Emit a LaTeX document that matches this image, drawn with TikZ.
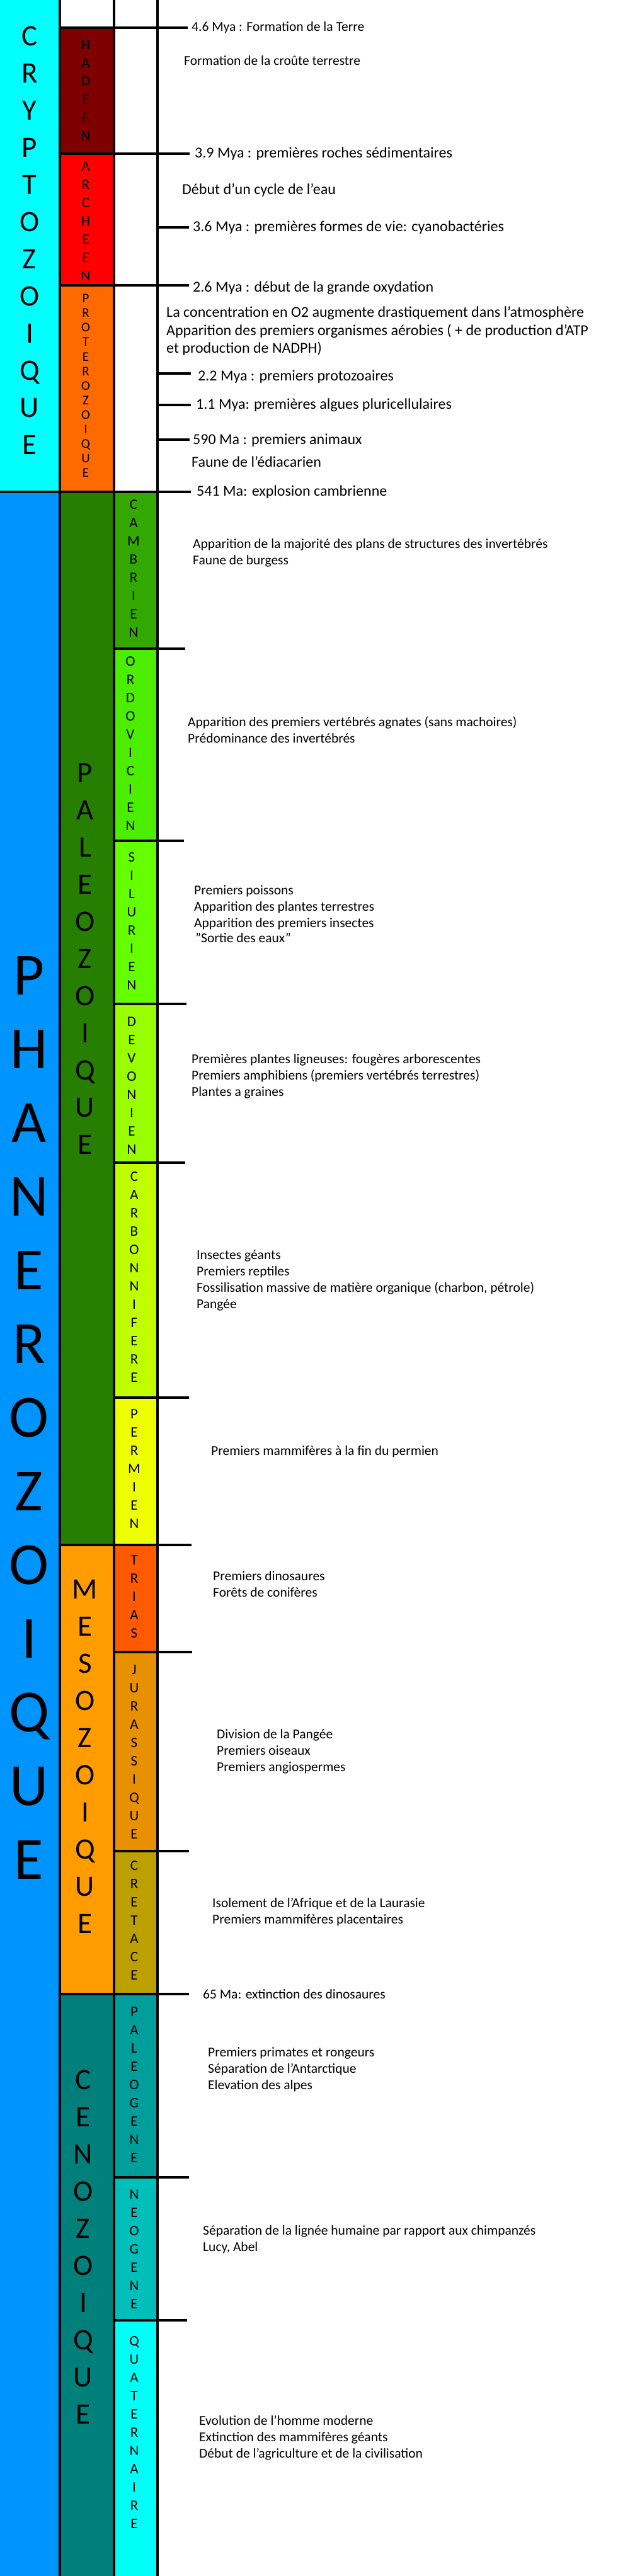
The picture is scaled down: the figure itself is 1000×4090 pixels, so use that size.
\documentclass[tikz,border=0pt]{standalone}
\usepackage{fontspec}
\setmainfont{Carlito}
\usepackage{xcolor}
\usepackage{tikz}
\usetikzlibrary{positioning}

\definecolor{cryptoC}{HTML}{00FFFF}
\definecolor{phaneroC}{HTML}{0094FF}
\definecolor{hadeenC}{HTML}{7F0000}
\definecolor{archeenC}{HTML}{FF0000}
\definecolor{proteroC}{HTML}{FF6A00}
\definecolor{paleoC}{HTML}{267F00}
\definecolor{mesoC}{HTML}{FF9C00}
\definecolor{cenoC}{HTML}{007F7B}
\definecolor{cambC}{HTML}{33A800}
\definecolor{ordoC}{HTML}{4CEE00}
\definecolor{siluC}{HTML}{66FF00}
\definecolor{devoC}{HTML}{99FF00}
\definecolor{carboC}{HTML}{BFFF00}
\definecolor{permC}{HTML}{EEFF00}
\definecolor{triasC}{HTML}{FF5A00}
\definecolor{juraC}{HTML}{E79000}
\definecolor{cretaC}{HTML}{BBA000}
\definecolor{paleogC}{HTML}{009E9A}
\definecolor{neogC}{HTML}{00BFBA}
\definecolor{quatC}{HTML}{00FFF6}

\begin{document}
\begin{tikzpicture}[
  x=1pt, y=-1pt,
  divider/.style={line width=4.3pt, black},
  tickline/.style={line width=4.3pt, black},
  bigword/.style={align=center, inner sep=0pt, font=\fontsize{47}{59}\selectfont},
  hugeword/.style={align=center, inner sep=0pt, font=\fontsize{95}{117}\selectfont},
  smallword/.style={align=center, inner sep=0pt, font=\fontsize{23}{29}\selectfont},
  tinyword/.style={align=center, inner sep=0pt, font=\fontsize{21}{23.1}\selectfont},
  fact/.style={anchor=west, align=left, inner sep=0pt, font=\fontsize{21.5}{26}\selectfont},
  bigfact/.style={anchor=west, align=left, inner sep=0pt, font=\fontsize{24}{28.5}\selectfont}
]
\useasboundingbox[fill=white] (0,0) rectangle (1000,4090);

% eons
\fill[cryptoC] (0,0) rectangle (95,781);
\fill[phaneroC] (0,781) rectangle (95,4090);

% eras
\fill[hadeenC] (95,44) rectangle (181,244);
\fill[archeenC] (95,244) rectangle (181,453);
\fill[proteroC] (95,453) rectangle (181,781);
\fill[paleoC] (95,781) rectangle (181,2453);
\fill[mesoC] (95,2453) rectangle (181,3166);
\fill[cenoC] (95,3166) rectangle (181,4090);

% periods
\fill[cambC] (181,781) rectangle (250,1030);
\fill[ordoC] (181,1030) rectangle (250,1335);
\fill[siluC] (181,1335) rectangle (250,1594);
\fill[devoC] (181,1594) rectangle (250,1846);
\fill[carboC] (181,1846) rectangle (250,2219);
\fill[permC] (181,2219) rectangle (250,2453);
\fill[triasC] (181,2453) rectangle (250,2623);
\fill[juraC] (181,2623) rectangle (250,2939);
\fill[cretaC] (181,2939) rectangle (250,3166);
\fill[paleogC] (181,3166) rectangle (250,3457);
\fill[neogC] (181,3457) rectangle (250,3684);
\fill[quatC] (181,3684) rectangle (250,4090);

\draw[divider] (95,0) -- (95,4090);
\draw[divider] (181,0) -- (181,4090);
\draw[divider] (250,0) -- (250,4090);

% ticks
\draw[tickline] (95,44) -- (298,44);
\draw[tickline] (95,244) -- (301,244);
\draw[tickline] (250,361) -- (300,361);
\draw[tickline] (95,453) -- (300,453);
\draw[tickline] (250,593) -- (303,593);
\draw[tickline] (250,643) -- (303,643);
\draw[tickline] (250,698) -- (301,698);
\draw[tickline] (0,781) -- (303,781);
\draw[tickline] (181,1030) -- (294,1030);
\draw[tickline] (181,1335) -- (292,1335);
\draw[tickline] (181,1594) -- (296,1594);
\draw[tickline] (181,1846) -- (294,1846);
\draw[tickline] (181,2219) -- (300,2219);
\draw[tickline] (95,2453) -- (304,2453);
\draw[tickline] (181,2623) -- (305,2623);
\draw[tickline] (181,2939) -- (300,2939);
\draw[tickline] (95,3166) -- (300,3166);
\draw[tickline] (181,3457) -- (300,3457);
\draw[tickline] (181,3684) -- (297,3684);

% stacked names
\node[bigword] (crypto) at (47,381.5) {C\\R\\Y\\P\\T\\O\\Z\\O\\I\\Q\\U\\E};
\node[hugeword] (phanero) at (46,2251) {P\\H\\A\\N\\E\\R\\O\\Z\\O\\I\\Q\\U\\E};

\node[smallword] (hadeen) at (136,144) {H\\A\\D\\E\\E\\N};
\node[smallword] (archeen) at (136,351) {A\\R\\C\\H\\E\\E\\N};
\node[tinyword] (protero) at (136,612.5) {P\\R\\O\\T\\E\\R\\O\\Z\\O\\I\\Q\\U\\E};
\node[bigword] (paleo) at (135,1522.5) {P\\A\\L\\E\\O\\Z\\O\\I\\Q\\U\\E};
\node[bigword] (meso) at (135,2788.5) {M\\E\\S\\O\\Z\\O\\I\\Q\\U\\E};
\node[bigword] (ceno) at (132,3567.5) {C\\E\\N\\O\\Z\\O\\I\\Q\\U\\E};

\node[smallword] (camb) at (212,903) {C\\A\\M\\B\\R\\I\\E\\N};
\node[smallword] (ordo) at (207,1180.5) {O\\R\\D\\O\\V\\I\\C\\I\\E\\N};
\node[smallword] (silu) at (209,1463) {S\\I\\L\\U\\R\\I\\E\\N};
\node[smallword] (devo) at (209,1724) {D\\E\\V\\O\\N\\I\\E\\N};
\node[smallword] (carbo) at (213,2027.5) {C\\A\\R\\B\\O\\N\\N\\I\\F\\E\\R\\E};
\node[smallword] (perm) at (213,2332) {P\\E\\R\\M\\I\\E\\N};
\node[smallword] (trias) at (213,2535) {T\\R\\I\\A\\S};
\node[smallword] (jura) at (213,2782) {J\\U\\R\\A\\S\\S\\I\\Q\\U\\E};
\node[smallword] (creta) at (213,3048.5) {C\\R\\E\\T\\A\\C\\E};
\node[smallword] (paleog) at (213,3310) {P\\A\\L\\E\\O\\G\\E\\N\\E};
\node[smallword] (neog) at (213,3571) {N\\E\\O\\G\\E\\N\\E};
\node[smallword] (quat) at (213,3861.5) {Q\\U\\A\\T\\E\\R\\N\\A\\I\\R\\E};

% events, precambrian
\node[fact] (terre) at (304,44) {4.6 Mya : Formation de la Terre};
\node[fact] (croute) at (292,96) {Formation de la croûte terrestre};
\node[bigfact] (roches) at (309,244) {3.9 Mya : premières roches sédimentaires};
\node[bigfact] (eau) at (289,302) {Début d'un cycle de l'eau};
\node[bigfact] (cyano) at (306,361) {3.6 Mya : premières formes de vie: cyanobactéries};
\node[bigfact] (oxyd) at (306,457) {2.6 Mya : début de la grande oxydation};
\node[bigfact] (otwo) at (264,525.5) {La concentration en O2 augmente drastiquement dans l'atmosphère\\Apparition des premiers organismes aérobies ( + de production d'ATP\\et production de NADPH)};
\node[bigfact] (proto) at (314,598) {2.2 Mya : premiers protozoaires};
\node[bigfact] (algues) at (311,643) {1.1 Mya: premières algues pluricellulaires};
\node[bigfact] (animaux) at (306,699) {590 Ma : premiers animaux};
\node[bigfact] (ediac) at (304,733) {Faune de l'édiacarien};
\node[bigfact] (explo) at (312,781) {541 Ma: explosion cambrienne};

% events, phanerozoic
\node[fact] (cambtxt) at (306,878) {Apparition de la majorité des plans de structures des invertébrés\\Faune de burgess};
\node[fact] (ordotxt) at (298,1159) {Apparition des premiers vertébrés agnates (sans machoires)\\Prédominance des invertébrés};
\node[fact] (silutxt) at (308,1441) {Premiers poissons\\Apparition des plantes terrestres\\Apparition des premiers insectes};
\node[fact] (sortie) at (310,1489) {"Sortie des eaux"};
\node[fact] (devotxt) at (304,1709) {Premières plantes ligneuses: fougères arborescentes\\Premiers amphibiens (premiers vertébrés terrestres)\\Plantes a graines};
\node[fact] (carbotxt) at (312,2033) {Insectes géants\\Premiers reptiles\\Fossilisation massive de matière organique (charbon, pétrole)\\Pangée};
\node[fact] (permtxt) at (335,2305) {Premiers mammifères à la fin du permien};
\node[fact] (triastxt) at (338,2515) {Premiers dinosaures\\Forêts de conifères};
\node[fact] (juratxt) at (344,2781) {Division de la Pangée\\Premiers oiseaux\\Premiers angiospermes};
\node[fact] (cretatxt) at (337,3036) {Isolement de l'Afrique et de la Laurasie\\Premiers mammifères placentaires};
\node[fact] (dinos) at (322,3166) {65 Ma: extinction des dinosaures};
\node[fact] (paleogtxt) at (330,3286) {Premiers primates et rongeurs\\Séparation de l'Antarctique\\Elevation des alpes};
\node[fact] (neogtxt) at (322,3556) {Séparation de la lignée humaine par rapport aux chimpanzés\\Lucy, Abel};
\node[fact] (quattxt) at (316,3871) {Evolution de l'homme moderne\\Extinction des mammifères géants\\Début de l'agriculture et de la civilisation};
\end{tikzpicture}
\end{document}
